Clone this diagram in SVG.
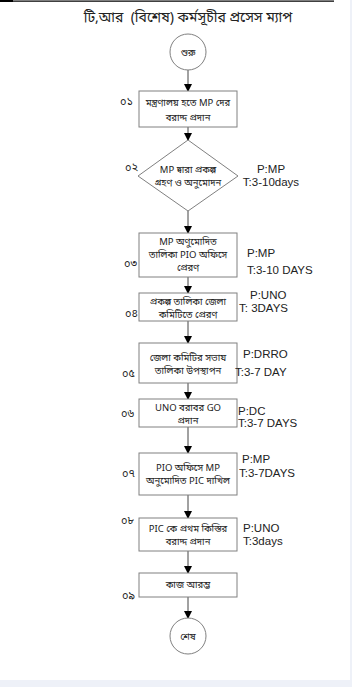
<svg xmlns="http://www.w3.org/2000/svg" width="352" height="687" viewBox="0 0 352 687">
<defs>
<marker id="arr" markerWidth="8" markerHeight="8" refX="7" refY="4" orient="auto" markerUnits="userSpaceOnUse">
<path d="M0,0 L8,4 L0,8 Z" fill="#000"/>
</marker>
<style>
.bn{font-family:"Noto Sans Bengali","Lohit Bengali","Noto Serif Bengali","Liberation Sans",sans-serif;fill:#222;}
.box{fill:#fff;stroke:#808080;stroke-width:1;}
.t{font-size:9.5px;text-anchor:middle;}
.num{font-size:11px;}
.pt{font-family:"Liberation Sans",Arial,sans-serif;font-size:11.5px;fill:#222;}
.ln{stroke:#444;stroke-width:1;fill:none;marker-end:url(#arr);}
</style>
</defs>
<rect x="0" y="0" width="352" height="687" fill="#eef1f8"/>
<rect x="0" y="0" width="350" height="680" fill="#fff"/>
<rect x="0" y="0" width="13" height="2" fill="#000"/>
<line x1="13" y1="1.2" x2="334" y2="1.2" stroke="#000" stroke-width="1.2"/>
<text class="bn" x="188" y="22" font-size="14" text-anchor="middle" style="white-space:pre">টি,আর  (বিশেষ) কর্মসূচীর প্রসেস ম্যাপ</text>

<g id="connectors">
<line class="ln" x1="188" y1="70" x2="188" y2="91"/>
<line class="ln" x1="188" y1="127" x2="188" y2="140"/>
<line class="ln" x1="188" y1="211" x2="188" y2="233"/>
<line class="ln" x1="188" y1="277" x2="188" y2="293"/>
<line class="ln" x1="188" y1="321" x2="188" y2="343"/>
<line class="ln" x1="188" y1="383" x2="188" y2="399"/>
<line class="ln" x1="188" y1="427" x2="188" y2="453"/>
<line class="ln" x1="188" y1="495" x2="188" y2="518"/>
<line class="ln" x1="188" y1="551" x2="188" y2="573"/>
<line class="ln" x1="188" y1="597" x2="188" y2="618"/>
</g>

<g id="start">
<circle cx="188" cy="52" r="18" class="box"/>
<text class="bn t" x="188" y="55.5">শুরু</text>
</g>

<g id="n01">
<rect x="139" y="91" width="98" height="36" class="box"/>
<text class="bn t" x="188" y="106">মন্ত্রণালয় হতে MP দের</text>
<text class="bn t" x="188" y="121">বরাদ্দ প্রদান</text>
<text class="bn num" x="120" y="105">০১</text>
</g>

<g id="n02">
<polygon points="188,140 238,176 188,211 138,176" class="box"/>
<text class="bn t" x="188" y="172.5">MP দ্বারা প্রকল্প</text>
<text class="bn t" x="188" y="186">গ্রহণ ও অনুমোদন</text>
<text class="bn num" x="125" y="171">০২</text>
<text class="pt" x="271" y="173" text-anchor="middle">P:MP</text>
<text class="pt" x="271" y="186" text-anchor="middle">T:3-10days</text>
</g>

<g id="n03">
<rect x="139" y="233" width="98" height="44" class="box"/>
<text class="bn t" x="188" y="244.5">MP অণুমোদিত</text>
<text class="bn t" x="188" y="257.5">তালিকা PIO অফিসে</text>
<text class="bn t" x="188" y="270.5">প্রেরণ</text>
<text class="bn num" x="124" y="267">০৩</text>
<text class="pt" x="247" y="257">P:MP</text>
<text class="pt" x="247" y="274">T:3-10 DAYS</text>
</g>

<g id="n04">
<rect x="139" y="293" width="98" height="28" class="box"/>
<text class="bn t" x="188" y="304.5">প্রকল্প তালিকা জেলা</text>
<text class="bn t" x="188" y="318">কমিটিতে প্রেরণ</text>
<text class="bn num" x="125" y="317">০৪</text>
<text class="pt" x="250" y="299">P:UNO</text>
<text class="pt" x="239" y="312">T: 3DAYS</text>
</g>

<g id="n05">
<rect x="139" y="343" width="98" height="40" class="box"/>
<text class="bn t" x="188" y="360.5">জেলা কমিটির সভায়</text>
<text class="bn t" x="188" y="373.5">তালিকা উপস্থাপন</text>
<text class="bn num" x="122" y="377">০৫</text>
<text class="pt" x="243" y="358">P:DRRO</text>
<text class="pt" x="235" y="376">T:3-7 DAY</text>
</g>

<g id="n06">
<rect x="139" y="399" width="98" height="28" class="box"/>
<text class="bn t" x="188" y="410.5">UNO বরাবর GO</text>
<text class="bn t" x="188" y="424">প্রদান</text>
<text class="bn num" x="121" y="417">০৬</text>
<text class="pt" x="238" y="415" font-size="11">P:DC</text>
<text class="pt" x="238" y="427" font-size="11">T:3-7 DAYS</text>
</g>

<g id="n07">
<rect x="139" y="453" width="98" height="42" class="box"/>
<text class="bn t" x="188" y="470.5">PIO অফিসে MP</text>
<text class="bn t" x="188" y="484">অনুমোদিত PIC দাখিল</text>
<text class="bn num" x="122" y="477">০৭</text>
<text class="pt" x="242" y="463">P:MP</text>
<text class="pt" x="239" y="477">T:3-7DAYS</text>
</g>

<g id="n08">
<rect x="139" y="518" width="98" height="33" class="box"/>
<text class="bn t" x="188" y="531.5">PIC কে প্রথম কিস্তির</text>
<text class="bn t" x="188" y="545">বরাদ্দ প্রদান</text>
<text class="bn num" x="121" y="524">০৮</text>
<text class="pt" x="243" y="532">P:UNO</text>
<text class="pt" x="243" y="545">T:3days</text>
</g>

<g id="n09">
<rect x="139" y="573" width="98" height="24" class="box"/>
<text class="bn t" x="188" y="588">কাজ আরম্ভ</text>
<text class="bn num" x="122" y="599">০৯</text>
</g>

<g id="end">
<circle cx="188" cy="636" r="18" class="box"/>
<text class="bn t" x="188" y="639.5">শেষ</text>
</g>
</svg>
